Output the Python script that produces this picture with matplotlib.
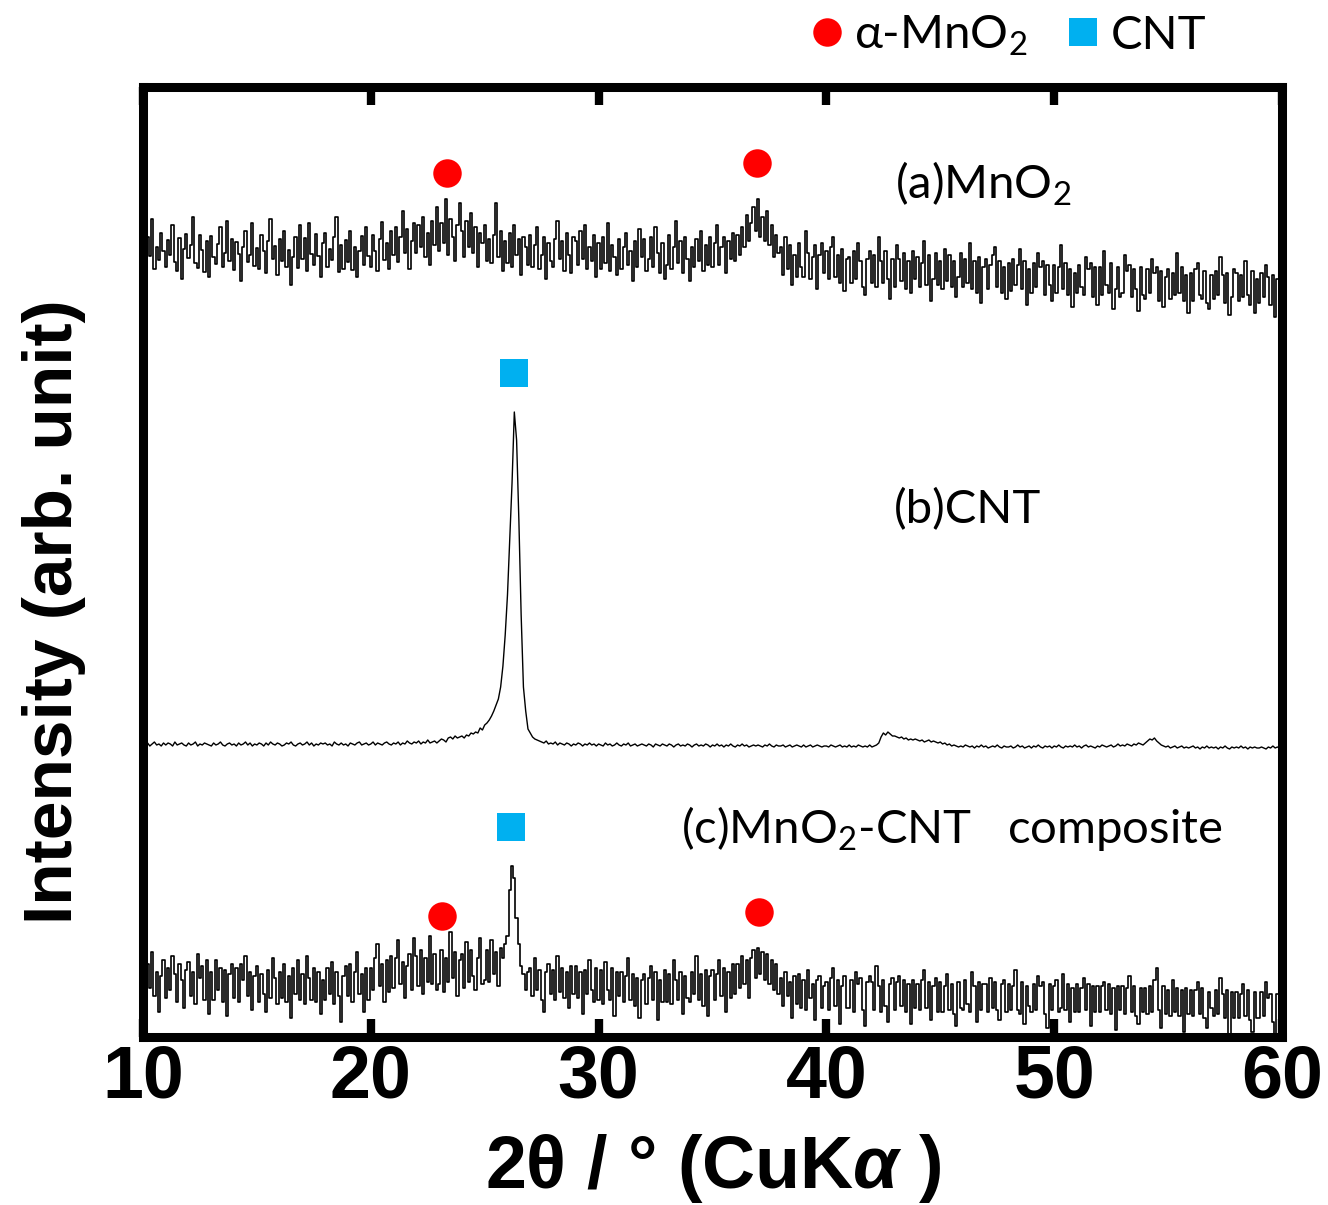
import numpy as np
import matplotlib
matplotlib.use("Agg")
import matplotlib.pyplot as plt
from matplotlib.lines import Line2D

# ---------------- data ----------------
# diffraction angle grid (2theta, degrees), 0.1 deg step
two_theta = np.linspace(10, 60, 501)

# (a) MnO2 pattern, arbitrary counts
mno2 = [
    74, 52, 80, 61, 98, 48, 70, 57, 84, 66,
    50, 77, 62, 92, 55, 46, 79, 38, 68, 83,
    59, 72, 100, 54, 49, 82, 67, 45, 76, 40,
    81, 60, 53, 73, 90, 50, 64, 96, 56, 78,
    47, 75, 63, 36, 70, 86, 55, 62, 94, 51,
    69, 48, 82, 66, 44, 76, 98, 58, 71, 42,
    78, 56, 86, 50, 67, 32, 60, 80, 49, 92,
    58, 79, 46, 94, 63, 52, 83, 61, 40, 74,
    84, 50, 68, 57, 80, 100, 45, 72, 48, 77,
    55, 86, 47, 70, 40, 66, 81, 52, 90, 61,
    50, 82, 66, 46, 78, 95, 57, 74, 48, 86,
    62, 90, 55, 80, 106, 64, 88, 48, 76, 94,
    64, 92, 70, 100, 60, 84, 52, 96, 72, 110,
    66, 94, 74, 118, 62, 98, 80, 56, 92, 114,
    86, 60, 96, 70, 104, 64, 90, 50, 84, 74,
    92, 56, 78, 54, 82, 114, 60, 86, 46, 76,
    54, 84, 50, 92, 62, 78, 42, 80, 70, 52,
    82, 50, 72, 90, 48, 62, 80, 38, 74, 56,
    50, 78, 96, 58, 76, 46, 84, 62, 44, 80,
    76, 52, 86, 58, 92, 48, 70, 56, 82, 40,
    74, 48, 80, 54, 94, 46, 72, 60, 42, 78,
    48, 70, 84, 52, 66, 36, 76, 50, 88, 60,
    78, 46, 58, 80, 50, 90, 64, 44, 74, 38,
    52, 82, 48, 70, 96, 54, 76, 44, 80, 58,
    36, 70, 50, 78, 56, 86, 46, 72, 52, 80,
    50, 74, 92, 52, 70, 80, 44, 76, 58, 84,
    56, 82, 62, 90, 70, 102, 76, 94, 110, 86,
    118, 80, 100, 76, 106, 72, 92, 60, 82, 64,
    70, 42, 80, 48, 72, 32, 62, 40, 74, 50,
    40, 86, 64, 38, 60, 72, 28, 62, 74, 44,
    66, 38, 70, 80, 40, 62, 34, 68, 26, 58,
    60, 34, 66, 38, 74, 56, 30, 22, 58, 66,
    34, 62, 30, 80, 56, 34, 66, 38, 18, 58,
    30, 72, 58, 36, 64, 28, 56, 24, 66, 38,
    60, 30, 54, 76, 32, 62, 16, 38, 64, 32,
    56, 28, 68, 36, 62, 30, 56, 20, 40, 64,
    30, 58, 34, 74, 28, 56, 24, 60, 14, 50,
    58, 28, 52, 62, 70, 30, 56, 24, 50, 18,
    54, 26, 58, 32, 52, 68, 28, 56, 12, 48,
    24, 54, 30, 64, 50, 56, 22, 52, 32, 16,
    52, 24, 50, 72, 28, 54, 22, 48, 10, 44,
    24, 52, 30, 22, 60, 48, 54, 20, 50, 12,
    50, 22, 66, 32, 24, 54, 8, 28, 50, 20,
    24, 62, 46, 52, 20, 48, 28, 6, 50, 22,
    18, 48, 24, 58, 44, 50, 16, 46, 10, 40,
    48, 18, 44, 22, 64, 24, 50, 16, 42, 4,
    44, 16, 48, 54, 22, 18, 46, 14, 8, 42,
    18, 46, 22, 60, 42, 14, 44, 2, 20, 48,
    44, 16, 42, 20, 56, 22, 12, 46, 4, 38,
    14, 44, 20, 52, 40, 12, 42, 0, 38, 18,
    30,
]

# (b) CNT pattern, arbitrary counts
cnt = [
    4, 3, 5, 2, 4, 6, 3, 4, 2, 5,
    3, 5, 4, 2, 6, 3, 4, 5, 3, 2,
    5, 3, 4, 6, 2, 4, 3, 5, 4, 3,
    2, 5, 3, 4, 6, 3, 2, 4, 5, 3,
    4, 2, 5, 3, 4, 6, 3, 5, 2, 4,
    3, 5, 4, 2, 5, 3, 6, 4, 3, 5,
    4, 2, 3, 5, 4, 6, 3, 2, 4, 5,
    3, 4, 6, 3, 5, 2, 4, 3, 5, 4,
    5, 3, 4, 2, 6, 4, 3, 5, 3, 4,
    2, 5, 4, 3, 5, 6, 3, 4, 5, 3,
    4, 6, 3, 5, 4, 3, 5, 6, 4, 3,
    5, 4, 6, 3, 5, 4, 7, 5, 4, 6,
    5, 7, 4, 6, 5, 8, 5, 6, 7, 5,
    7, 9, 8, 6, 10, 11, 9, 12, 10, 11,
    12, 10, 13, 12, 15, 14, 16, 15, 20, 18,
    23, 25, 28, 32, 37, 43, 49, 61, 82, 113,
    153, 209, 265, 336, 308, 228, 133, 61, 37, 19,
    15, 11, 9, 8, 7, 6, 5, 7, 4, 5,
    4, 6, 3, 5, 4, 3, 5, 4, 2, 4,
    3, 5, 4, 2, 4, 3, 5, 3, 4, 2,
    4, 3, 2, 5, 3, 4, 2, 3, 5, 3,
    2, 4, 3, 5, 2, 3, 4, 2, 3, 4,
    3, 2, 4, 3, 1, 4, 3, 2, 4, 3,
    2, 4, 3, 1, 3, 4, 2, 3, 2, 4,
    3, 1, 3, 4, 2, 3, 2, 4, 3, 1,
    3, 2, 4, 2, 3, 1, 3, 2, 4, 2,
    1, 3, 2, 4, 2, 3, 1, 2, 3, 2,
    3, 2, 1, 3, 2, 4, 2, 1, 3, 2,
    2, 3, 1, 2, 3, 1, 2, 3, 2, 1,
    3, 1, 2, 3, 1, 2, 3, 2, 1, 2,
    2, 1, 3, 2, 1, 2, 3, 1, 2, 1,
    3, 1, 2, 1, 3, 2, 1, 2, 1, 3,
    1, 2, 3, 5, 11, 15, 13, 16, 14, 12,
    12, 11, 10, 11, 9, 10, 8, 9, 8, 9,
    8, 7, 8, 6, 7, 8, 6, 7, 6, 5,
    6, 4, 5, 3, 4, 2, 3, 2, 1, 2,
    1, 3, 2, 1, 2, 0, 2, 1, 3, 1,
    2, 0, 1, 2, 1, 3, 1, 0, 2, 1,
    1, 2, 0, 1, 3, 1, 2, 0, 1, 2,
    0, 2, 1, 3, 1, 0, 2, 1, 2, 0,
    2, 1, 3, 1, 0, 2, 1, 2, 1, 3,
    1, 2, 0, 2, 3, 1, 2, 1, 0, 2,
    1, 3, 2, 1, 2, 3, 1, 2, 4, 2,
    3, 2, 4, 3, 2, 4, 3, 5, 4, 3,
    5, 7, 9, 8, 10, 7, 5, 3, 2, 1,
    2, 0, 1, 2, 0, 1, 2, 0, 1, 0,
    1, 2, 0, 1, -1, 1, 0, 2, 0, 1,
    0, 1, -1, 1, 0, 2, 0, -1, 1, 0,
    1, 0, 2, 0, 1, -1, 1, 0, 1, 0,
    0, 1, 0, -1, 1, 0, 2, 0, 1, 0,
    0,
]

# (c) MnO2-CNT composite pattern, arbitrary counts
composite = [
    60, 36, 66, 42, 78, 34, 58, 18, 54, 70,
    32, 62, 40, 74, 56, 28, 66, 50, 22, 60,
    68, 34, 58, 26, 76, 52, 64, 30, 70, 16,
    58, 30, 70, 40, 62, 28, 60, 14, 56, 66,
    32, 62, 28, 66, 50, 74, 34, 58, 20, 54,
    64, 28, 56, 36, 18, 60, 32, 72, 52, 26,
    58, 32, 66, 28, 54, 12, 62, 36, 70, 30,
    56, 26, 74, 52, 30, 62, 28, 58, 16, 50,
    30, 62, 36, 68, 26, 58, 34, 8, 54, 64,
    34, 66, 28, 58, 78, 36, 56, 18, 62, 30,
    62, 40, 72, 86, 44, 66, 28, 70, 38, 74,
    42, 72, 90, 46, 68, 32, 64, 76, 40, 92,
    74, 44, 80, 36, 72, 48, 94, 46, 76, 40,
    46, 80, 38, 72, 48, 98, 52, 78, 34, 70,
    76, 42, 88, 48, 80, 54, 40, 72, 92, 46,
    50, 80, 48, 90, 56, 78, 44, 82, 72, 86,
    94, 140, 164, 152, 112, 86, 64, 56, 40, 58,
    62, 34, 72, 40, 60, 30, 18, 58, 66, 36,
    60, 30, 74, 38, 62, 32, 58, 22, 64, 36,
    64, 32, 58, 16, 60, 36, 70, 40, 28, 62,
    30, 60, 26, 68, 40, 30, 62, 14, 58, 34,
    58, 28, 54, 72, 30, 56, 24, 52, 12, 50,
    56, 26, 52, 64, 30, 58, 10, 50, 28, 60,
    28, 56, 26, 70, 50, 30, 58, 16, 54, 32,
    28, 58, 36, 74, 30, 56, 24, 60, 14, 54,
    60, 30, 56, 70, 34, 62, 18, 58, 32, 66,
    36, 66, 42, 74, 46, 70, 32, 72, 80, 52,
    82, 56, 78, 50, 76, 46, 70, 40, 66, 36,
    52, 24, 58, 34, 48, 12, 54, 26, 56, 22,
    50, 20, 60, 32, 46, 10, 50, 54, 22, 44,
    48, 20, 52, 62, 24, 50, 6, 44, 54, 22,
    22, 50, 18, 58, 46, 52, 20, 4, 48, 54,
    48, 20, 64, 44, 18, 50, 24, 8, 46, 52,
    20, 48, 54, 24, 50, 18, 46, 6, 50, 22,
    46, 20, 50, 60, 22, 48, 10, 44, 52, 18,
    48, 18, 44, 56, 20, 46, 16, 4, 48, 22,
    20, 50, 26, 18, 58, 44, 8, 48, 20, 46,
    46, 18, 52, 22, 48, 20, 10, 46, 50, 18,
    46, 20, 44, 60, 20, 16, 48, 6, 44, 24,
    18, 46, 20, 54, 44, 48, 16, 2, 46, 20,
    44, 50, 18, 22, 56, 20, 46, 8, 42, 18,
    46, 18, 42, 52, 20, 46, 4, 44, 18, 44,
    18, 44, 48, 20, 46, 16, 42, 0, 44, 20,
    44, 16, 42, 54, 18, 44, 14, 6, 42, 18,
    42, 16, 44, 18, 50, 62, 20, 2, 44, 16,
    40, 14, 50, 18, 42, 14, 40, -2, 42, 16,
    40, 14, 40, 48, 16, 42, 12, 2, 38, 22,
    14, 40, 16, 52, 36, 12, 40, -4, 38, 12,
    38, 12, 36, 46, 14, 40, 10, -2, 38, 12,
    12, 38, 14, 48, 32, 36, 8, -6, 36, 18,
    20,
]

# reflection positions marked above the patterns (2theta, degrees)
mno2_peaks_a = [23.33, 36.97]
cnt_peak_b = [26.30]
mno2_peaks_c = [23.11, 37.06]
cnt_peak_c = [26.15]

tick_values = [10, 20, 30, 40, 50, 60]

# ---------------- style ----------------
plt.rcParams["font.family"] = ["Lato", "DejaVu Sans"]
plt.rcParams["mathtext.fontset"] = "custom"
plt.rcParams["mathtext.rm"] = "Lato"
plt.rcParams["mathtext.it"] = "Liberation Sans:italic:bold"
plt.rcParams["mathtext.bf"] = "Liberation Sans:bold"

RED = "#FF0000"
BLUE = "#00B0F0"
TICK_FONT = ["Liberation Sans", "DejaVu Sans"]

fig = plt.figure(figsize=(13.28, 12.05), dpi=100)
ax = fig.add_axes([143 / 1328, 168 / 1205, 1139 / 1328, 950 / 1205])

# vertical stacking of the three patterns
OFFSET_A, OFFSET_B, OFFSET_C = 720, 289, 7

ax.plot(two_theta, np.asarray(mno2) + OFFSET_A, color="black", lw=1.2,
        drawstyle="steps-mid")
ax.plot(two_theta, np.asarray(cnt) + OFFSET_B, color="black", lw=1.0)
ax.plot(two_theta, np.asarray(composite) + OFFSET_C, color="black", lw=1.2,
        drawstyle="steps-mid")

# phase markers
MS = 20.5
ax.plot(mno2_peaks_a, [864, 874], "o", color=RED, ms=MS, mew=0)
ax.plot(cnt_peak_b, [664], "s", color=BLUE, ms=MS, mew=0)
ax.plot(mno2_peaks_c, [121, 125], "o", color=RED, ms=MS, mew=0)
ax.plot(cnt_peak_c, [210], "s", color=BLUE, ms=MS, mew=0)

# sample labels
LABEL_FS = 34
ax.text(43.0, 839, "(a)MnO$_\\mathregular{2}$", fontsize=LABEL_FS, va="baseline")
ax.text(42.95, 514, "(b)CNT", fontsize=LABEL_FS, va="baseline")
ax.text(33.62, 194, "(c)MnO$_\\mathregular{2}$-CNT   composite",
        fontsize=LABEL_FS, va="baseline")

# axes
ax.set_xlim(10, 60)
ax.set_ylim(0, 950)
ax.set_xticks(tick_values)
ax.set_yticks([])
for sp in ax.spines.values():
    sp.set_linewidth(6.5)
ax.tick_params(axis="x", which="major", direction="in", top=True, bottom=True,
               length=13, width=6, pad=5)
for lab in ax.get_xticklabels():
    lab.set_fontfamily(TICK_FONT)
    lab.set_fontweight("bold")
    lab.set_fontsize(53)

ax.set_xlabel("2θ / ° (CuK$\\alpha$ )", fontsize=53, fontweight="bold",
              family=TICK_FONT)
ax.xaxis.set_label_coords(0.501, -0.10)

ax.set_ylabel("Intensity (arb. unit)", fontsize=50, fontweight="bold",
              family=["Liberation Sans", "DejaVu Sans"], va="center", ha="center")
ax.yaxis.set_label_coords(-0.078, 0.448)

# legend above the frame
handles = [
    Line2D([], [], marker="o", ls="", color=RED, ms=MS, mew=0),
    Line2D([], [], marker="s", ls="", color=BLUE, ms=MS, mew=0),
]
fig.legend(handles, ["α-MnO$_\\mathregular{2}$", "CNT"], ncol=2, frameon=False,
           fontsize=LABEL_FS, loc="center right",
           bbox_to_anchor=(1206 / 1328, 1 - 36 / 1205),
           handlelength=0.6, handletextpad=0.28, columnspacing=0.88,
           borderpad=0, borderaxespad=0)

fig.savefig("out.png", dpi=100, facecolor="white")
